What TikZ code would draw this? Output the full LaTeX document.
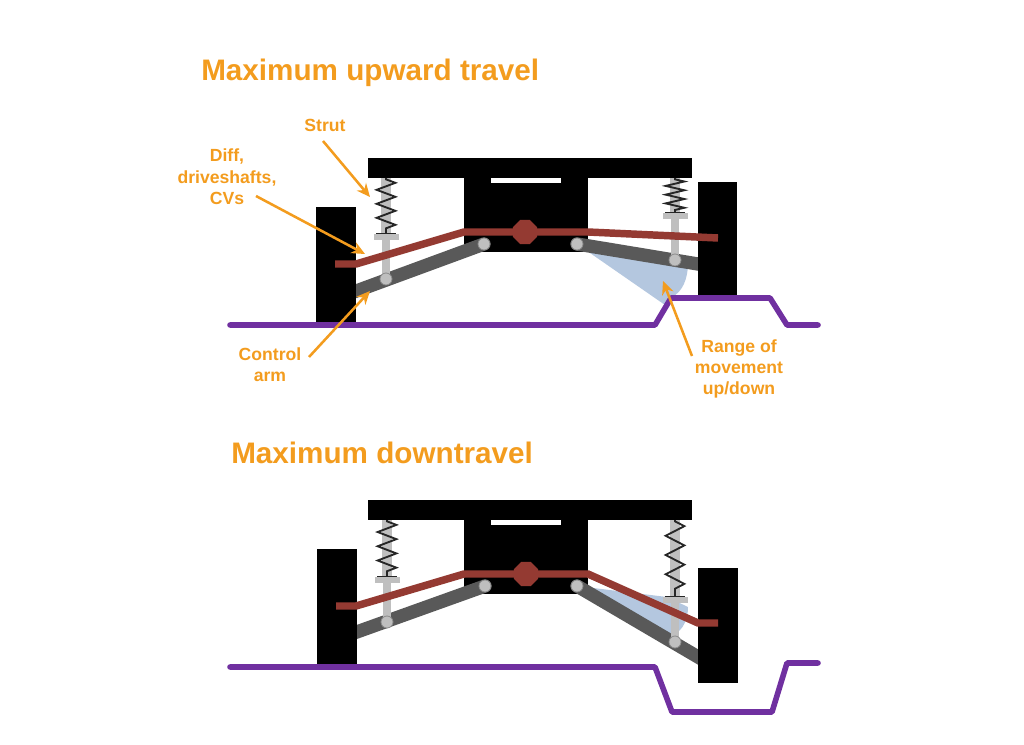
\documentclass[tikz,border=0pt]{standalone}
\usepackage{xcolor}
\usepackage{fontspec}
\setmainfont{Liberation Sans}
\usetikzlibrary{decorations.pathmorphing,arrows.meta,shapes.geometric}
\definecolor{susp_orange}{RGB}{243, 156, 30}
\definecolor{susp_purple}{RGB}{112, 48, 160}
\definecolor{susp_red}{RGB}{148, 58, 50}
\definecolor{susp_arm}{RGB}{89, 89, 89}
\definecolor{susp_rod}{RGB}{191, 191, 191}
\definecolor{susp_range}{RGB}{180, 199, 223}
\tikzset{
  road/.style={draw=susp_purple, line width=4.2pt, line cap=round, line join=round},
  axle/.style={draw=susp_red, line width=5.6pt},
  arm/.style={draw=susp_arm, line width=10pt, line cap=round},
  rod/.style={draw=susp_rod, line width=6.5pt},
  balljoint/.style={circle, draw=susp_arm!70, line width=0.6pt, fill=susp_rod, minimum size=9pt, inner sep=0pt},
  coil/.style={draw=black!85, line width=1.4pt, decorate,
    decoration={zigzag, amplitude=7pt, pre length=1pt, post length=1pt}},
  diffhex/.style={regular polygon, regular polygon sides=8, fill=susp_red, minimum size=19.5pt, inner sep=0pt},
  title/.style={text=susp_orange, font=\bfseries\fontsize{22.25}{26}\selectfont, anchor=base west, inner sep=0pt},
  callout/.style={text=susp_orange, font=\bfseries\fontsize{13.2}{16}\selectfont, align=center},
  pointer/.style={draw=susp_orange, line width=1.9pt, -{Stealth[length=10pt,width=9pt]}},
}
% one spring and strut, #1 x, #2 top of the spring, #3 top of the cap, #4 joint y
\newcommand{\coilstrut}[4]{
  \draw[draw=susp_rod, line width=7.5pt] (#1,#2) -- (#1,#3);
  \draw[coil, decoration={segment length=(#3-#2)/4*0.75pt}] (#1,#2) -- (#1,#3);
  \fill[black!85] (#1-10,#3-1) rectangle (#1+10,#3);
  \fill[susp_rod] (#1-12.5,#3) rectangle (#1+12.5,#3+6);
  \draw[rod] (#1,#3+5) -- (#1,#4);
}
% chassis and diff housing, the same in both positions, #1 y offset
\newcommand{\carbody}[1]{
  \fill[black] (368,158+#1) rectangle (692,178+#1);
  \fill[black] (464,178+#1) rectangle (491,184+#1);
  \fill[black] (561,178+#1) rectangle (588,184+#1);
  \fill[black] (464,183+#1) rectangle (588,252+#1);
}
\begin{document}
\begin{tikzpicture}[x=0.75pt, y=-0.75pt]
  \useasboundingbox (0,0) rectangle (1024,745);

  % upper car, right wheel on the bump
  \fill[susp_range] (577,244) -- (665,305) -- (672,297) .. controls (682,292) and (688,280) .. (688,262) -- cycle;
  \carbody{0}
  \draw[arm] (340,297) -- (484,244);
  \draw[arm] (577,244) -- (710,266);
  \fill[black] (316,207) rectangle (356,323);
  \fill[black] (698,182) rectangle (737,297);
  \draw[road] (230,325) -- (655,325) -- (671,298) -- (770,298) -- (787,325) -- (818,325);
  \coilstrut{386}{178}{234}{279}
  \coilstrut{675}{178}{213}{260}
  \draw[axle] (335,264) -- (356,264) -- (464,232) -- (588,232) -- (718,238);
  \node[diffhex] (hexup) at (525,232) {};
  \node[balljoint] (ballupa) at (484,244) {};
  \node[balljoint] (ballupb) at (577,244) {};
  \node[balljoint] (ballupc) at (386,279) {};
  \node[balljoint] (ballupd) at (675,260) {};

  % lower car, right wheel in the dip
  \fill[susp_range] (577,586) -- (667,597) -- (688,607) .. controls (688,618) and (684,630) .. (673,635) -- cycle;
  \carbody{342}
  \draw[arm] (340,638) -- (485,586);
  \draw[arm] (577,586) -- (710,664);
  \fill[black] (316.5,549) rectangle (356.5,665);
  \fill[black] (698,568) rectangle (738,683);
  \draw[road] (230,667) -- (655,667) -- (672,712) -- (772,712) -- (787,663) -- (818,663);
  \coilstrut{387}{520}{577}{622}
  \coilstrut{675}{520}{597}{642}
  \draw[axle] (336,606) -- (356,606) -- (464,574) -- (588,574) -- (698,623) -- (718,623);
  \node[diffhex] (hexdown) at (526,574) {};
  \node[balljoint] (balldowna) at (485,586) {};
  \node[balljoint] (balldownb) at (577,586) {};
  \node[balljoint] (balldownc) at (387,622) {};
  \node[balljoint] (balldownd) at (675,642) {};

  \node[title] (uptitle) at (201,81) {Maximum upward travel};
  \node[title] (downtitle) at (231,463) {Maximum downtravel};

  \node[callout] (strutlabel) at (325,125) {Strut};
  \node[callout] (difflabel) at (227,177) {Diff,\\driveshafts,\\CVs};
  \node[callout] (armlabel) at (270,365) {Control\\arm};
  \node[callout] (rangelabel) at (739,369) {Range of\\movement\\up/down};

  \coordinate (strutend) at (370,197);
  \coordinate (diffend) at (365,254);
  \coordinate (armend) at (370,291);
  \coordinate (rangeend) at (663,281);
  \draw[pointer] (strutlabel.center) ++(-2,16) -- (strutend);
  \draw[pointer] (difflabel.center) ++(29,19) -- (diffend);
  \draw[pointer] (armlabel.center) ++(39,-8) -- (armend);
  \draw[pointer] (rangelabel.center) ++(-47,-13) -- (rangeend);
\end{tikzpicture}
\end{document}
